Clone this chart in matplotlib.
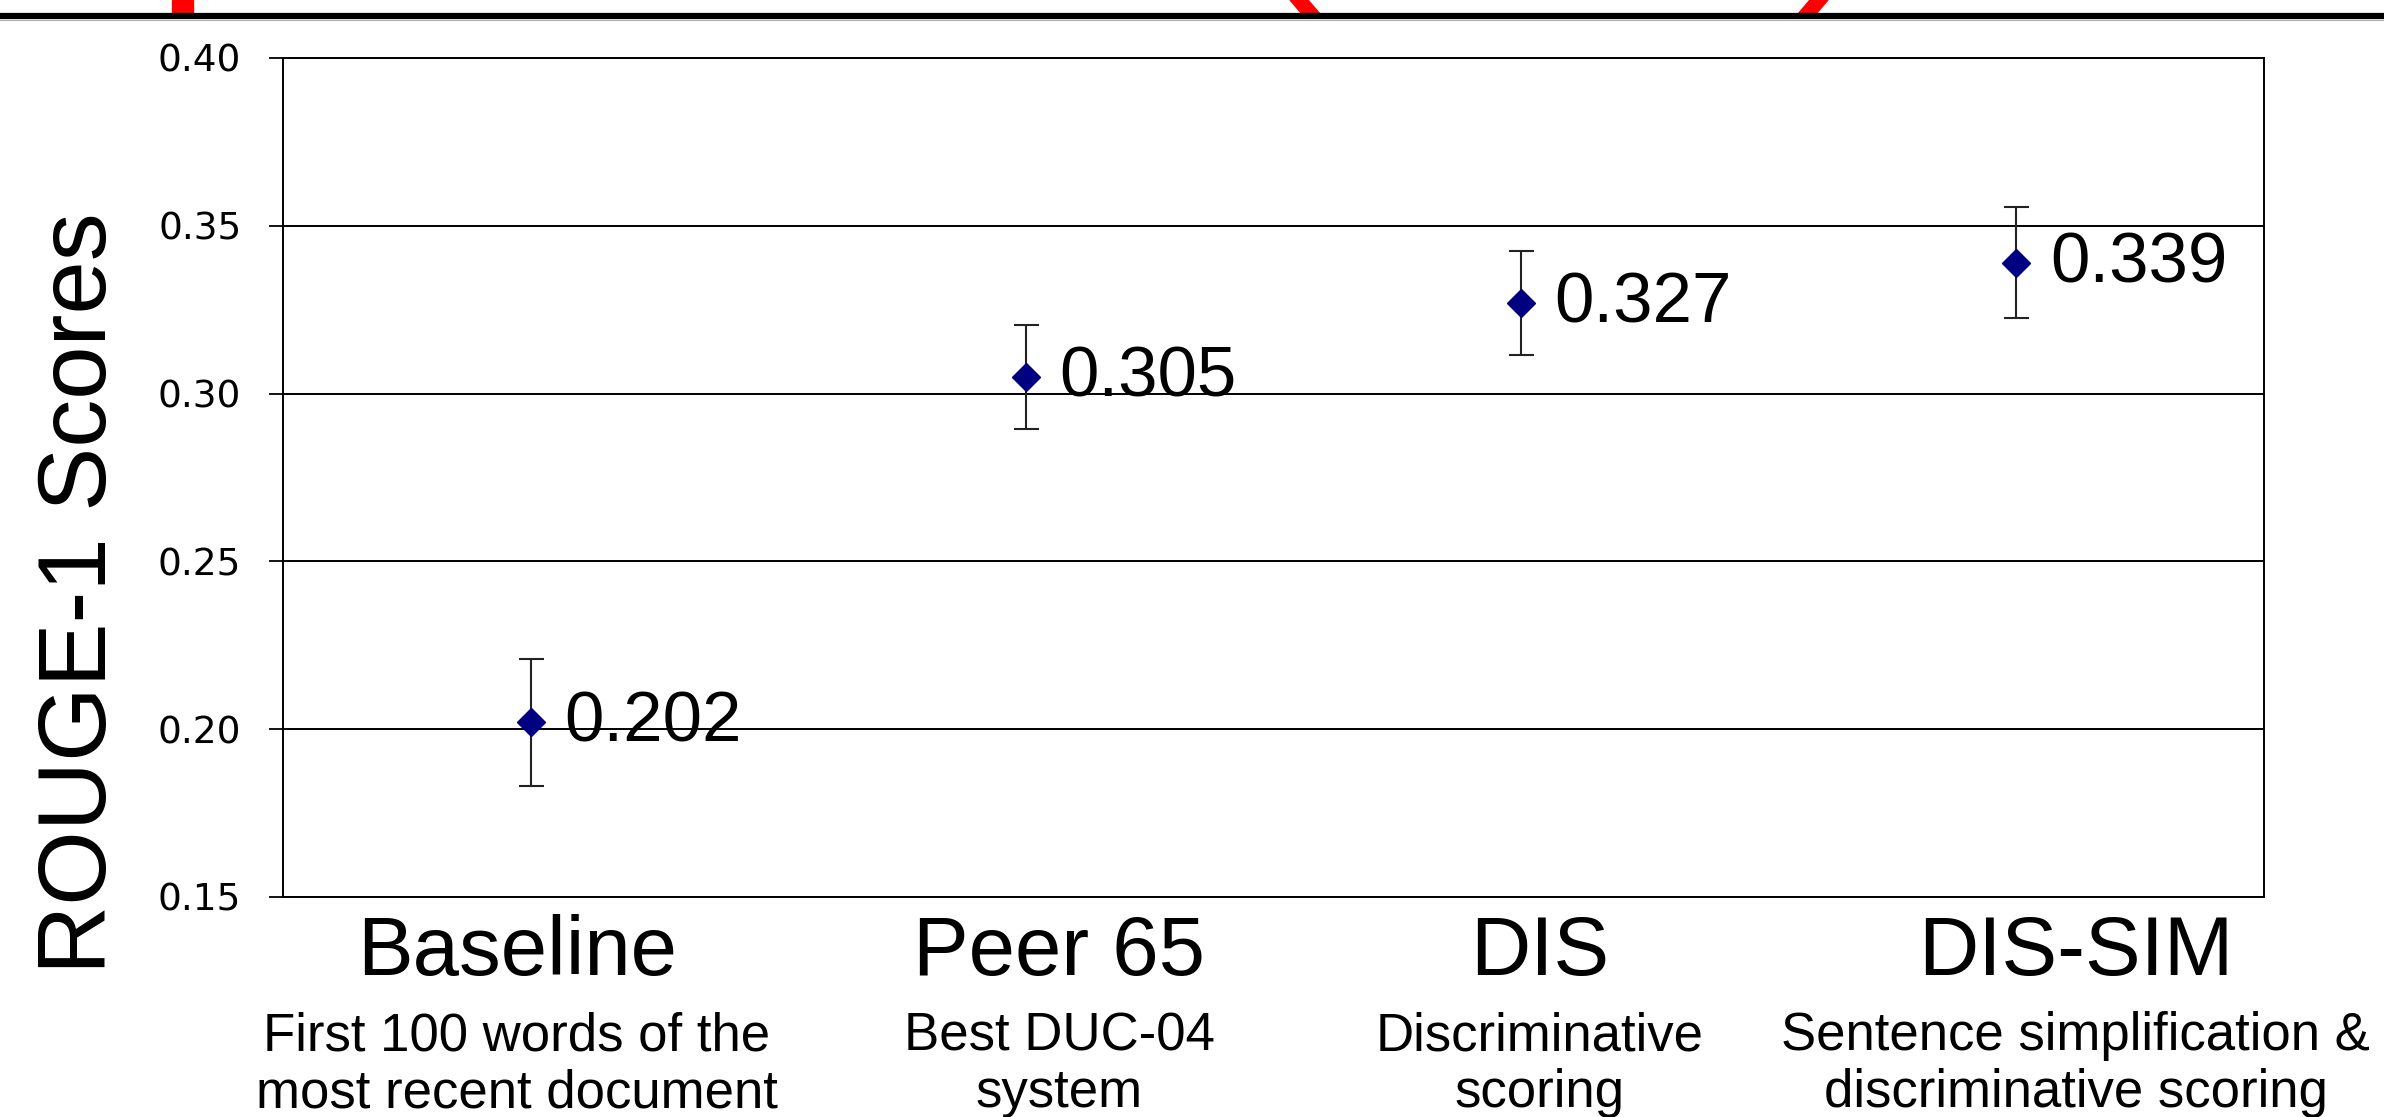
import matplotlib
matplotlib.use("Agg")
import matplotlib.pyplot as plt
from matplotlib.patches import Polygon, Rectangle
from matplotlib.lines import Line2D
from matplotlib.transforms import blended_transform_factory

# data
categories = ["Baseline", "Peer 65", "DIS", "DIS-SIM"]
descriptions = ["First 100 words of the\nmost recent document",
                "Best DUC-04\nsystem",
                "Discriminative\nscoring",
                "Sentence simplification &\ndiscriminative scoring"]
scores = [0.202, 0.305, 0.327, 0.339]
err_low = [0.019, 0.0155, 0.0155, 0.0165]
err_high = [0.019, 0.0155, 0.0155, 0.0165]
score_labels = ["0.202", "0.305", "0.327", "0.339"]
yticks = [0.15, 0.20, 0.25, 0.30, 0.35, 0.40]
# the category text boxes are not quite centred on the points
label_shift = [-0.028, 0.067, 0.037, 0.12]

plt.rcParams['font.family'] = ['Liberation Sans', 'DejaVu Sans']

fig = plt.figure(figsize=(23.84, 11.17), dpi=100)
ax = fig.add_axes([0.1187, 0.1970, 0.8310, 0.7511])

xs = [i + 0.5 for i in range(len(categories))]

ax.set_ylim(0.15, 0.40)
ax.set_xlim(0, len(categories))
ax.set_yticks(yticks)
ax.set_yticklabels(["%.2f" % t for t in yticks], family='DejaVu Sans', fontsize=27)
ax.tick_params(axis='y', direction='out', length=10, width=1.3, pad=20)
ax.set_xticks([])
ax.yaxis.grid(True, color='black', linewidth=1.4)
ax.set_axisbelow(True)
for sp in ax.spines.values():
    sp.set_linewidth(1.4)
    sp.set_color('black')

ax.errorbar(xs, scores, yerr=[err_low, err_high], fmt='D', color='#000080',
            markersize=14, ecolor='#222222', elinewidth=1.5, capsize=9,
            capthick=1.5, zorder=3)

for x, y, lab in zip(xs, scores, score_labels):
    ax.annotate(lab, (x, y), xytext=(24, -1), textcoords='offset points',
                fontsize=51, va='center', ha='left')

trans = blended_transform_factory(ax.transData, ax.transAxes)
for x, dx, cat, desc in zip(xs, label_shift, categories, descriptions):
    ax.text(x + dx, -0.067, cat, transform=trans, fontsize=60,
            ha='center', va='center')
    ax.text(x + dx, -0.200, desc, transform=trans, fontsize=38,
            ha='center', va='center', linespacing=1.18)

fig.text(0.034, 0.469, "ROUGE-1 Scores", rotation=90, fontsize=69,
         ha='center', va='center')

# cut-off slide title and rule at the top
fig.add_artist(Rectangle((172 / 2384, 1 - 14 / 1117), 21 / 2384, 14 / 1117,
                         transform=fig.transFigure, color='red'))
fig.add_artist(Polygon([(1290 / 2384, 1), (1308 / 2384, 1),
                        (1320 / 2384, 1 - 14 / 1117), (1302 / 2384, 1 - 14 / 1117)],
                       transform=fig.transFigure, color='red'))
fig.add_artist(Polygon([(1810 / 2384, 1), (1828 / 2384, 1),
                        (1816 / 2384, 1 - 14 / 1117), (1798 / 2384, 1 - 14 / 1117)],
                       transform=fig.transFigure, color='red'))
fig.add_artist(Line2D([0, 1], [1 - 16 / 1117, 1 - 16 / 1117],
                      transform=fig.transFigure, color='black', linewidth=4.5))
fig.add_artist(Line2D([0, 1], [1 - 19.5 / 1117, 1 - 19.5 / 1117],
                      transform=fig.transFigure, color='#b0b0b0', linewidth=0.8))

fig.savefig("out.png", dpi=100)
